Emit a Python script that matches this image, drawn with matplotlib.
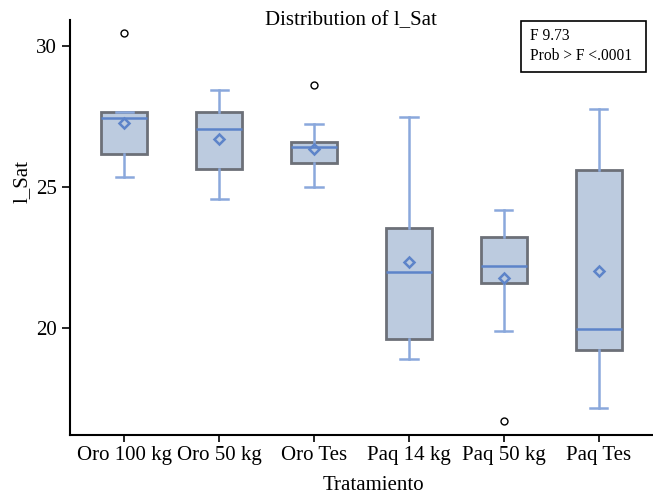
import matplotlib
matplotlib.use('Agg')
import matplotlib.pyplot as plt
from matplotlib.patches import Rectangle

# grupos de tratamiento y resumen de cada caja
groups = ["Oro 100 kg", "Oro 50 kg", "Oro Tes", "Paq 14 kg", "Paq 50 kg", "Paq Tes"]
q1 = [26.16, 25.64, 25.84, 19.60, 21.58, 19.22]
med = [27.44, 27.06, 26.43, 21.98, 22.20, 19.96]
q3 = [27.67, 27.65, 26.61, 23.54, 23.24, 25.60]
mean = [27.26, 26.69, 26.35, 22.33, 21.76, 22.03]
wlo = [25.36, 24.56, 24.98, 18.90, 19.89, 17.15]
whi = [27.67, 28.44, 27.22, 27.47, 24.18, 27.77]
outliers = [[30.46], [], [28.62], [], [16.68], []]

f_value = "9.73"
p_value = "<.0001"

plt.rcParams['font.family'] = ['Liberation Serif', 'DejaVu Serif']

fig = plt.figure(figsize=(6.53, 4.95), dpi=100)
ax = fig.add_axes([70/653, 60/495, 583/653, 415/495])

stats = []
for i, g in enumerate(groups):
    stats.append(dict(label=g, q1=q1[i], med=med[i], q3=q3[i], mean=mean[i],
                      whislo=wlo[i], whishi=whi[i], fliers=outliers[i]))

ax.bxp(stats, positions=range(len(groups)), widths=0.48, capwidths=0.18,
       showmeans=True, patch_artist=True,
       boxprops=dict(facecolor='#bccbdf', edgecolor='#6c7078', linewidth=2.0),
       whiskerprops=dict(color='#8aa8dc', linewidth=1.8),
       capprops=dict(color='#8aa8dc', linewidth=1.8),
       medianprops=dict(color='#5d84c9', linewidth=1.8),
       meanprops=dict(marker='D', markerfacecolor='none', markeredgecolor='#5d84c9',
                      markeredgewidth=1.8, markersize=5.5),
       flierprops=dict(marker='o', markerfacecolor='none', markeredgecolor='black',
                       markeredgewidth=1.0, markersize=5))

ax.set_xlim(-0.57, 5.57)
ax.set_ylim(16.2, 30.92)
ax.set_yticks([20, 25, 30])
ax.spines['top'].set_visible(False)
ax.spines['right'].set_visible(False)
ax.spines['left'].set_linewidth(1.5)
ax.spines['bottom'].set_linewidth(1.5)
ax.tick_params(axis='y', length=6, width=1.2, labelsize=15)
ax.tick_params(axis='x', length=5, width=1.2, labelsize=15, pad=3)

ax.set_xlabel("Tratamiento", fontsize=15)
ax.xaxis.set_label_coords(0.52, -0.098)
ax.set_ylabel("l_Sat", fontsize=15)
ax.yaxis.set_label_coords(-0.066, 0.61)
ax.set_title("Distribution of l_Sat", fontsize=15, x=0.482, y=0.988, pad=0)

# recuadro con el resultado del ANOVA
ax.add_patch(Rectangle((0.7736, 0.875), 0.2144, 0.1226, transform=ax.transAxes,
                       facecolor='white', edgecolor='black', linewidth=1.2, clip_on=False))
ax.text(0.789, 0.952, "F " + f_value, transform=ax.transAxes, fontsize=11.2, va='baseline')
ax.text(0.789, 0.904, "Prob > F " + p_value, transform=ax.transAxes, fontsize=11.2, va='baseline')

fig.savefig("out.png", dpi=100)
